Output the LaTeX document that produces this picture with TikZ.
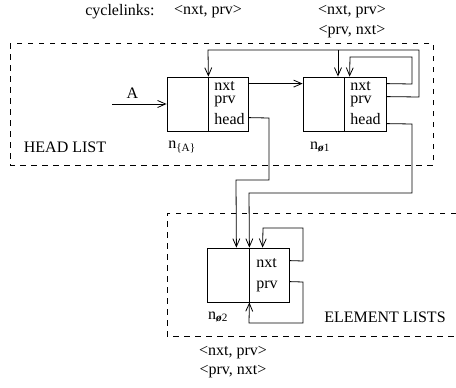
\documentclass[tikz,border=0pt]{standalone}
\usepackage{fontspec}
\setmainfont{Liberation Serif}
\usetikzlibrary{arrows.meta}
\begin{document}
\begin{tikzpicture}[x=1pt,y=-1pt,
  font=\fontsize{16}{19}\selectfont,
  every path/.style={line width=0.8pt},
  link/.style={draw, -{Straight Barb[length=8pt,width=7pt]}},
  half/.style={draw, minimum height=54pt, inner sep=0pt},
  region/.style={draw, dash pattern=on 5.5pt off 5.5pt, line width=0.8pt},
  txt/.style={inner sep=0pt}]
\useasboundingbox (0,0) rectangle (456,388);
% regions
\draw[region] (10,43) rectangle (433,165);
\draw[region] (456,213) -- (167,213) -- (167,336) -- (456,336);
% top labels
\node[txt] (cyc) at (120,12) {cyclelinks:};
\node[txt] (cl1) at (208,12) {<nxt, prv>};
\node[txt] (cl2) at (352,12) {<nxt, prv>};
\node[txt] (cl3) at (352,32) {<prv, nxt>};
% box A
\node[half, minimum width=41pt] (aL) at (187.5,104) {};
\node[half, minimum width=40pt] (aR) at (228,104) {};
\node[txt, anchor=west] (anxt) at (214,86) {nxt};
\node[txt, anchor=west] (aprv) at (214,101) {prv};
\node[txt, anchor=west] (ahead) at (214,119) {head};
\node[txt] (aname) at (182,147) {n\textsubscript{\{A\}}};
% box B
\node[half, minimum width=41pt] (bL) at (323.5,104) {};
\node[half, minimum width=42pt] (bR) at (365,104) {};
\node[txt, anchor=west] (bnxt) at (350,86) {nxt};
\node[txt, anchor=west] (bprv) at (350,101) {prv};
\node[txt, anchor=west] (bhead) at (350,119) {head};
\node[txt] (bname) at (320,147) {n\textsubscript{\textbf{\textit{ø}}1}};
% box C
\node[half, minimum width=42pt] (cL) at (228,275) {};
\node[half, minimum width=40pt] (cR) at (269,275) {};
\node[txt, anchor=west] (cnxt) at (256,263) {nxt};
\node[txt, anchor=west] (cprv) at (256,286) {prv};
\node[txt] (cname) at (218,317) {n\textsubscript{\textbf{\textit{ø}}2}};
% region labels
\node[txt] (hl) at (65,147) {HEAD LIST};
\node[txt] (el) at (385,317) {ELEMENT LISTS};
\node[txt] (bl1) at (233,353) {<nxt, prv>};
\node[txt] (bl2) at (233,372) {<prv, nxt>};
% A entry
\coordinate (Astart) at (112,104);
\draw[link] (Astart) -- node[txt, above=5pt, xshift=-7pt] (Alab) {A} (aL.west);
% nxt A -> B
\draw[link] ([yshift=-7pt]aR.north east) -- ([yshift=-7pt]bL.north west);
% B prv loop to A and B
\draw[link] ([yshift=-20pt]bR.north east) -- (419,97) -- (419,50) -- (208,50) -- (aL.north east);
\coordinate (branch) at (338,50);
\draw[link] (branch) -- (bL.north east -| branch);
% B nxt self loop
\draw[link] ([yshift=-7pt]bR.north east) -- (412,84) -- (412,57) -- (350,57) -- ([xshift=6pt]bR.north west);
% head links
\draw[link] ([yshift=-41pt]aR.north east) -- (269,118) -- (269,180) -- (236,180) -- ([xshift=-13pt]cL.north east);
\draw[link] ([yshift=-47pt]bR.north east) -- (412,124) -- (412,193) -- (249,193) -- (cL.north east);
% C loops
\draw[link] ([yshift=-13pt]cR.north east) -- (303,261) -- (303,228) -- (263,228) -- ([xshift=14pt]cR.north west);
\draw[link] ([yshift=-34pt]cR.north east) -- (303,282) -- (303,323) -- (249,323) -- (cL.south east);
\end{tikzpicture}
\end{document}
